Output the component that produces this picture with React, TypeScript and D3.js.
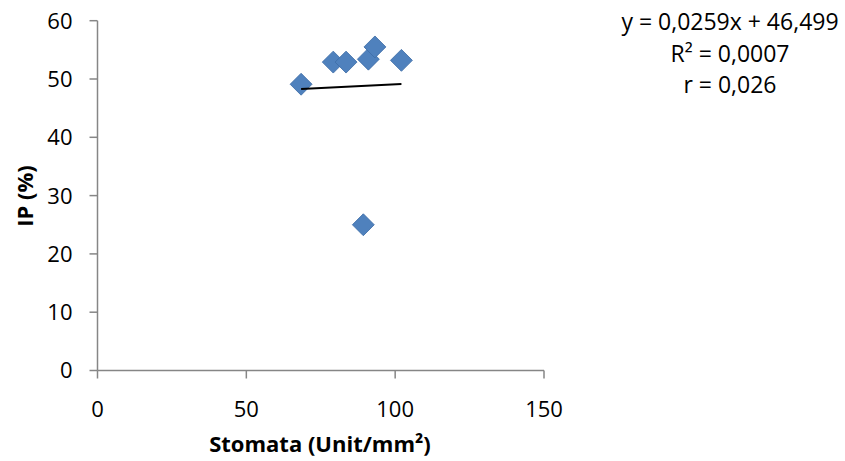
import React from "react";
import * as d3 from "d3";

const stomata = [68.4, 79.2, 83.5, 91.0, 93.2, 102.1, 89.3];
const ip = [49.1, 52.9, 52.9, 53.4, 55.5, 53.2, 25.0];
const xTicks = [0, 50, 100, 150];
const yTicks = [0, 10, 20, 30, 40, 50, 60];
const slope = 0.0259;
const intercept = 46.499;
const eqLines = ["y = 0,0259x + 46,499", "R² = 0,0007", "r = 0,026"];

const W = 845;
const H = 461;
const FONT = "'Open Sans', 'Noto Sans', sans-serif";

export default function App() {
  const x = d3.scaleLinear().domain([0, 150]).range([97.5, 544]);
  const y = d3.scaleLinear().domain([0, 60]).range([370.5, 20.7]);
  const axisColor = "#868686";
  const pts = stomata.map((s, i) => ({ s, v: ip[i] }));
  const xmin = d3.min(stomata) as number;
  const xmax = d3.max(stomata) as number;
  const diamond = d3.symbol().type(d3.symbolSquare).size(240)();
  const line = d3
    .line<number>()
    .x((d) => x(d))
    .y((d) => y(slope * d + intercept));

  return (
    <svg
      width={W}
      height={H}
      style={{ position: "absolute", left: 0, top: 0, background: "#fff" }}
      fontFamily={FONT}
    >
      {/* axes */}
      <line x1={x(0)} x2={x(150)} y1={y(0)} y2={y(0)} stroke={axisColor} strokeWidth={1.5} />
      <line x1={x(0)} x2={x(0)} y1={y(0)} y2={y(60)} stroke={axisColor} strokeWidth={1.5} />
      {yTicks.map((t) => (
        <g key={"y" + t}>
          <line x1={x(0) - 8} x2={x(0)} y1={y(t)} y2={y(t)} stroke={axisColor} strokeWidth={1.5} />
          <text x={x(0) - 25} y={y(t)} dy="0.36em" textAnchor="end" fontSize={22} fill="#000">
            {t}
          </text>
        </g>
      ))}
      {xTicks.map((t) => (
        <g key={"x" + t}>
          <line x1={x(t)} x2={x(t)} y1={y(0)} y2={y(0) + 8} stroke={axisColor} strokeWidth={1.5} />
          <text x={x(t)} y={417} textAnchor="middle" fontSize={22} fill="#000">
            {t}
          </text>
        </g>
      ))}
      {/* axis titles */}
      <text
        transform={`translate(33,196) rotate(-90)`}
        textAnchor="middle"
        fontSize={22}
        fontWeight="bold"
        fill="#000"
      >
        IP (%)
      </text>
      <text x={320} y={452} textAnchor="middle" fontSize={22} fontWeight="bold" fill="#000">
        Stomata (Unit/mm²)
      </text>
      {/* points */}
      {pts.map((p, i) => (
        <path
          key={i}
          d={diamond as string}
          transform={`translate(${x(p.s)},${y(p.v)}) rotate(45)`}
          fill="#4F81BD"
          stroke="#3E6EA8"
          strokeWidth={0.8}
        />
      ))}
      {/* trendline */}
      <path d={line([xmin, xmax]) as string} stroke="#000" strokeWidth={2} fill="none" />
      {/* equation */}
      {eqLines.map((t, i) => (
        <text key={i} x={730} y={30 + i * 31.5} textAnchor="middle" fontSize={23} fill="#000">
          {t}
        </text>
      ))}
    </svg>
  );
}
